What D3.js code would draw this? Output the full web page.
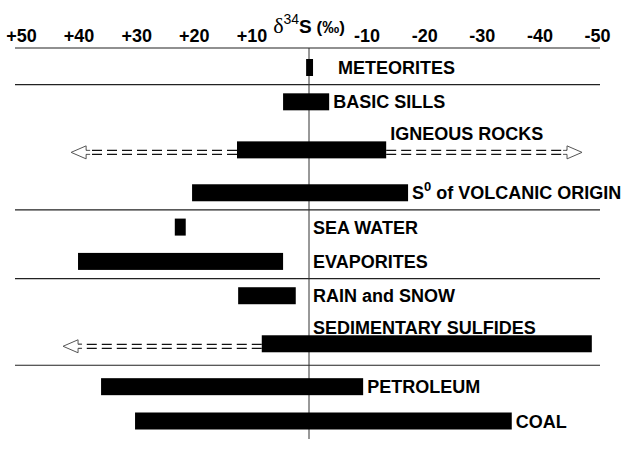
<!DOCTYPE html>
<html>
<head>
<meta charset="utf-8">
<script src="https://cdn.jsdelivr.net/npm/d3@7"></script>
<style>
  body { margin: 0; background: #fff; }
  text { font-family: "Liberation Sans", Arial, sans-serif; font-weight: bold; }
</style>
</head>
<body>
<div id="chart"></div>
<script>
// sulfur isotope ranges, delta 34S in per mil
var rows = ["METEORITES", "BASIC SILLS", "IGNEOUS ROCKS", "S^0 of VOLCANIC ORIGIN", "SEA WATER",
  "EVAPORITES", "RAIN and SNOW", "SEDIMENTARY SULFIDES", "PETROLEUM", "COAL"];
var groups = [0, 1, 1, 1, 2, 2, 3, 3, 4, 4];
var highs = [0.5, 4.5, 12.5, 20.3, 23.3, 40.1, 12.3, 8.2, 36.1, 30.2];
var lows = [-0.7, -3.5, -13.4, -17.2, 21.4, 4.5, 2.3, -49.1, -9.4, -35.2];
// dashed extensions (rare values) with arrow heads
var extHigh = [null, null, 41.3, null, null, null, null, 42.7, null, null];
var extLow = [null, null, -47.4, null, null, null, null, null, null, null];
var tickValues = [50, 40, 30, 20, 10, -10, -20, -30, -40, -50];

var svgWidth = 630;
var svgHeight = 449;

var svg = d3.select("#chart")
  .append("svg")
  .attr("width", svgWidth)
  .attr("height", svgHeight);

var x = d3.scaleLinear().domain([50, -50]).range([21, 597]);
var x0 = x(0);

// rows with the label above the bar take a little more room
var above = rows.map((r, i) => extHigh[i] !== null);
var u = 0;
var units = rows.map((r, i) => {
  if (i > 0) {
    u += 1;
    if (above[i]) u += 0.4;
    if (above[i - 1]) u += 0.25;
  }
  return u;
});
var y = d3.scaleLinear().domain([0, d3.max(units)]).range([67.5, 421]);
var barH = 17;
var lineLeft = 15, lineRight = 600, topY = 48;

// axis on top
var xAxis = d3.axisTop(x)
  .tickValues(tickValues)
  .tickSize(0)
  .tickPadding(0)
  .tickFormat(d => d > 0 ? "+" + d : "" + d);

var gAxis = svg.append("g")
  .attr("transform", "translate(0, 42)")
  .call(xAxis);
gAxis.select(".domain").remove();
gAxis.selectAll("text")
  .attr("dy", 0)
  .style("font-size", "18px")
  .style("font-family", "'Liberation Sans', Arial, sans-serif")
  .style("font-weight", "bold")
  .attr("fill", "#000");

// axis title
var title = svg.append("text")
  .attr("x", x0)
  .attr("y", 33)
  .attr("text-anchor", "middle");
title.append("tspan").text("δ")
  .style("font-family", "'Liberation Serif', 'DejaVu Serif', serif")
  .style("font-weight", "normal")
  .style("font-size", "22px");
title.append("tspan").text("34")
  .attr("dy", -9)
  .style("font-size", "14px")
  .style("font-weight", "normal");
title.append("tspan").text("S")
  .attr("dy", 9)
  .style("font-size", "19px");
title.append("tspan").text(" (‰)")
  .style("font-size", "17px");

// horizontal rules
var sepYs = [topY];
rows.forEach((r, i) => {
  if (i > 0 && groups[i] !== groups[i - 1]) {
    sepYs.push((y(units[i - 1]) + y(units[i])) / 2);
  }
});
svg.selectAll(".sep")
  .data(sepYs)
  .enter()
  .append("line")
  .attr("class", "sep")
  .attr("x1", lineLeft)
  .attr("x2", lineRight)
  .attr("y1", d => d)
  .attr("y2", d => d)
  .attr("stroke", "#222")
  .attr("stroke-width", 1.2);

// zero line
svg.append("line")
  .attr("x1", x0).attr("x2", x0)
  .attr("y1", topY).attr("y2", 439)
  .attr("stroke", "#333")
  .attr("stroke-width", 1);

var data = rows.map((r, i) => ({
  name: r, hi: highs[i], lo: lows[i], extHi: extHigh[i], extLo: extLow[i],
  cy: y(units[i]), above: above[i]
}));

// dashed extensions with open arrow heads
var headLen = 15, headHalf = 6.5, shaftHalf = 2;
function arrow(g, d, from, to) {
  var cy = d.cy + 2.5;
  var dir = Math.sign(to - from);       // direction toward the tip
  var base = to - dir * headLen;
  [-shaftHalf, shaftHalf].forEach(off => {
    g.append("line")
      .attr("x1", from).attr("x2", base)
      .attr("y1", cy + off).attr("y2", cy + off)
      .attr("stroke", "#111")
      .attr("stroke-width", 1.3)
      .attr("stroke-dasharray", "10,5");
  });
  g.append("path")
    .attr("d", `M${base - dir * 4},${cy - shaftHalf} L${base},${cy - shaftHalf} L${base},${cy - headHalf}
      L${to},${cy} L${base},${cy + headHalf} L${base},${cy + shaftHalf} L${base - dir * 4},${cy + shaftHalf}`)
    .attr("fill", "#fff")
    .attr("stroke", "#555")
    .attr("stroke-width", 1);
}

var gExt = svg.append("g");
data.forEach(d => {
  if (d.extHi !== null) arrow(gExt, d, x(d.hi), x(d.extHi));
  if (d.extLo !== null) arrow(gExt, d, x(d.lo), x(d.extLo));
});

// bars
svg.selectAll(".bar")
  .data(data)
  .enter()
  .append("rect")
  .attr("class", "bar")
  .attr("x", d => x(d.hi))
  .attr("width", d => x(d.lo) - x(d.hi))
  .attr("y", d => d.cy - barH / 2)
  .attr("height", barH)
  .attr("fill", "#000");

// labels: right of the bar; a label set above a long bar goes right of the zero line
var labelPad = { "METEORITES": 25 };
var labels = svg.selectAll(".lbl")
  .data(data)
  .enter()
  .append("text")
  .attr("class", "lbl")
  .attr("y", d => d.above ? d.cy - 10 : d.cy + 6.5)
  .style("font-size", "18px")
  .attr("fill", "#000");

labels.each(function(d) {
  var t = d3.select(this);
  var parts = d.name.split("^");
  if (parts.length === 1) {
    t.text(d.name);
  } else {
    var sup = parts[1].slice(0, 1);
    t.append("tspan").text(parts[0]);
    t.append("tspan").text(sup).attr("dy", -8).style("font-size", "13px");
    t.append("tspan").text(parts[1].slice(1)).attr("dy", 8);
  }
  var lx = Math.max(x(d.lo), x0) + (labelPad[d.name] || 4);
  if (d.above && lx + this.getComputedTextLength() > svgWidth) lx = x0 + 4;
  t.attr("x", lx);
});
</script>
</body>
</html>
